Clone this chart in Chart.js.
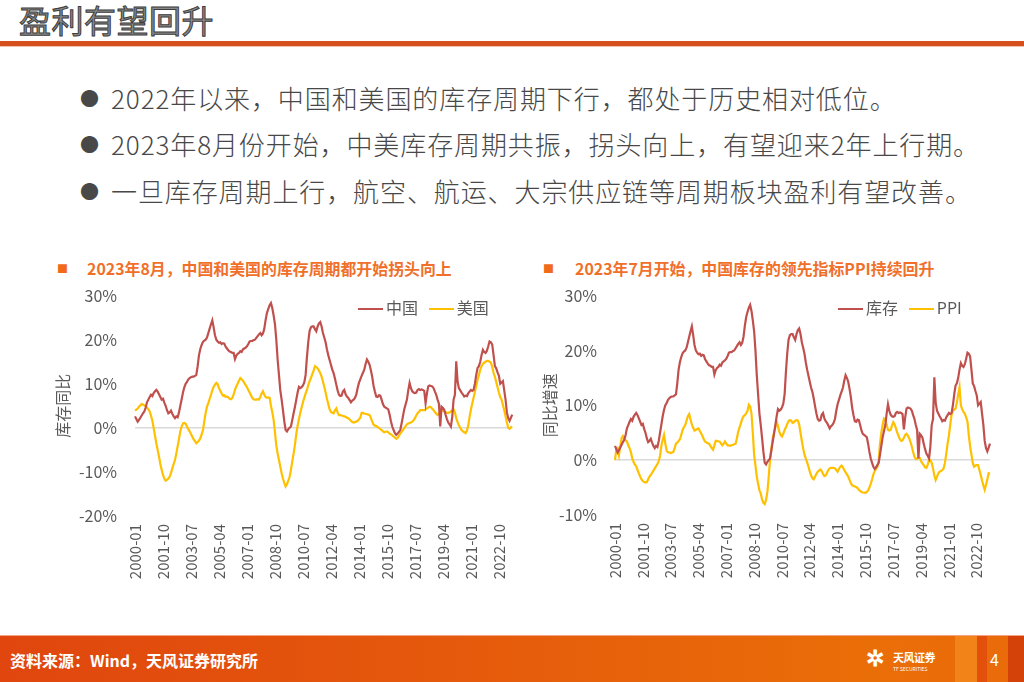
<!DOCTYPE html>
<html>
<head>
<meta charset="utf-8">
<script src="https://cdn.jsdelivr.net/npm/chart.js@4.4.0/dist/chart.umd.min.js"></script>
<style>
  body { margin:0; width:1024px; height:682px; overflow:hidden; background:#fff;
         font-family:"Noto Sans CJK SC", "Noto Sans", sans-serif; position:relative; }
  .abs { position:absolute; }
  #title { left:19px; top:-4px; font-size:32px; color:#8a8a8a; -webkit-text-stroke:1px #3c3c3c; letter-spacing:0.5px; }
  #bar { left:0; top:41px; width:1024px; height:5px; background:#D6501E; }
  #bar2 { left:0; top:46px; width:1024px; height:1px; background:#f2c4b0; }
  .bl { left:80px; font-size:26px; font-weight:300; color:#484848; white-space:nowrap; letter-spacing:0.9px; }
  .bl b { font-weight:normal; font-size:19px; margin-right:12px; position:relative; top:-3px; letter-spacing:0; }
  .ct { font-size:15.9px; font-weight:bold; color:#F0702A; white-space:nowrap; }
  .sq { font-size:11px; color:#F06A1A; }
  .lg { font-size:16px; color:#595959; white-space:nowrap; }
  .lg i { display:inline-block; width:25px; height:2px; vertical-align:middle; margin-right:3px; position:relative; top:-1px; }
  #foot { left:0; top:636px; width:1024px; height:46px;
          background:linear-gradient(90deg,#E0460E 0%,#E55A0C 45%,#EA6E08 85%,#E96A0A 100%); }
  #footline { left:0; top:635px; width:1024px; height:2px; background:#f4a384; }
  #src { left:10px; top:648px; font-size:16px; font-weight:bold; color:#fff; }
</style>
</head>
<body>
<div id="title" class="abs">盈利有望回升</div>
<div id="bar" class="abs"></div>
<div id="bar2" class="abs"></div>

<div class="abs bl" style="top:79px"><b>●</b>2022年以来，中国和美国的库存周期下行，都处于历史相对低位。</div>
<div class="abs bl" style="top:125px"><b>●</b>2023年8月份开始，中美库存周期共振，拐头向上，有望迎来2年上行期。</div>
<div class="abs bl" style="top:172px"><b>●</b>一旦库存周期上行，航空、航运、大宗供应链等周期板块盈利有望改善。</div>

<div class="abs sq" style="left:57px;top:260px">■</div>
<div class="abs ct" style="left:87px;top:257px">2023年8月，中国和美国的库存周期都开始拐头向上</div>
<div class="abs sq" style="left:543px;top:260px">■</div>
<div class="abs ct" style="left:575px;top:257px">2023年7月开始，中国库存的领先指标PPI持续回升</div>

<canvas id="c1" class="abs" style="left:53px;top:268px"></canvas>
<canvas id="c2" class="abs" style="left:540px;top:268px"></canvas>

<div class="abs lg" style="left:358px;top:295px"><i style="background:#C0504D"></i>中国&nbsp;&nbsp;&nbsp;<i style="background:#FFC000"></i>美国</div>
<div class="abs lg" style="left:838px;top:295px"><i style="background:#C0504D"></i>库存&nbsp;&nbsp;&nbsp;<i style="background:#FFC000"></i>PPI</div>

<div id="footline" class="abs"></div>
<div id="foot" class="abs"></div>
<div class="abs" style="left:955px;top:636px;width:22px;height:46px;background:#F28A1E;opacity:0.8"></div>
<div class="abs" style="left:977px;top:636px;width:10px;height:46px;background:#E2500C"></div>
<div class="abs" style="left:1008px;top:636px;width:16px;height:46px;background:#D4420A"></div>
<div id="src" class="abs">资料来源：Wind，天风证券研究所</div>
<div class="abs" style="left:866px;top:645px;color:#fff;font-size:22px;line-height:22px;font-weight:bold">✲</div>
<div class="abs" style="left:893px;top:649px;color:#fff;font-size:11px;font-weight:bold;letter-spacing:-0.5px">天风证券</div>
<div class="abs" style="left:893px;top:665px;color:#fff;font-size:5px">TF SECURITIES</div>
<div class="abs" style="left:990px;top:647px;color:#fff;font-size:16px">4</div>

<script>
// x-axis tick labels shown (every 21 months)
const tickLabels = ['2000-01','2001-10','2003-07','2005-04','2007-01','2008-10','2010-07',
  '2012-04','2014-01','2015-10','2017-07','2019-04','2021-01','2022-10'];

// China industrial inventory yoy (%), 2000-01 .. 2023-08
const chinaInv = [
  2.6, 2.0, 1.4, 1.8, 2.3, 2.8, 3.3, 3.7, 4.6, 5.8, 6.4, 7.0,
  7.5, 7.2, 7.9, 8.3, 8.6, 8.2, 7.6, 7.0, 6.4, 6.6, 5.7, 5.0,
  4.0, 3.3, 3.5, 3.9, 3.2, 2.6, 2.2, 2.6, 2.4, 3.5, 5.0, 6.5,
  8.0, 9.2, 10.0, 10.4, 11.0, 11.3, 11.5, 11.6, 11.6, 11.8, 12.0, 14.0,
  16.5, 17.9, 18.8, 19.5, 19.8, 20.0, 20.5, 21.5, 22.5, 23.5, 24.4, 22.8,
  21.0, 20.0, 19.6, 19.3, 19.4, 19.0, 19.2, 19.1, 18.4, 18.0, 17.6, 17.3,
  17.2, 17.0, 17.0, 15.6, 16.4, 16.8, 17.0, 17.4, 17.2, 17.8, 18.0, 18.2,
  18.5, 19.0, 19.6, 19.7, 19.7, 19.9, 20.0, 20.4, 20.8, 21.2, 21.5, 21.0,
  21.4, 22.5, 24.5, 26.1, 27.0, 27.8, 28.3, 27.2, 25.5, 23.5, 20.0, 15.5,
  12.0, 8.5, 6.4, 4.0, 1.5, -0.5, -0.8, -0.3, 0.0, 0.3, 1.8, 3.3,
  4.8, 6.4, 8.0, 9.3, 9.0, 9.2, 9.6, 10.3, 12.0, 16.1, 19.5, 22.0,
  22.8, 23.0, 23.0, 22.4, 21.9, 23.0, 23.7, 24.0, 23.0, 21.5, 20.5, 19.4,
  17.8, 16.5, 15.4, 14.3, 13.2, 12.4, 11.2, 9.8, 8.5, 7.5, 7.2, 7.3,
  8.3, 8.6, 7.6, 7.1, 6.8, 6.3, 5.8, 6.2, 6.4, 6.8, 7.5, 9.0,
  10.2, 11.0, 11.8, 12.5, 13.2, 14.5, 15.5, 15.0, 14.3, 13.0, 11.5, 9.5,
  8.2, 7.1, 7.0, 7.4, 7.3, 6.4, 5.4, 4.8, 4.6, 4.4, 4.2, 3.0,
  1.5, 0.3, -0.5, -1.2, -1.6, -1.3, -0.9, -0.5, 1.0, 2.6, 4.2, 5.3,
  6.4, 8.5, 10.2, 9.0, 8.3, 8.0, 7.9, 8.0, 8.6, 8.8, 8.6, 8.7,
  8.6, 8.4, 5.6, 7.8, 9.4, 9.6, 9.5, 9.4, 9.0, 8.2, 7.5, 6.4,
  5.5, 0.3, 4.8, 4.5, 4.1, 3.0, 2.0, 1.2, 0.8, 0.3, 2.5, 6.4,
  7.5, 15.1, 10.5, 9.0, 8.5, 8.0, 7.6, 7.1, 7.3, 7.2, 7.8, 8.2,
  8.6, 8.4, 8.6, 10.0, 12.0, 13.6, 14.0, 15.0, 16.5, 17.7, 17.2, 17.0,
  17.5, 18.5, 19.6, 19.4, 18.9, 16.5, 14.0, 13.5, 12.6, 11.8, 10.0, 10.3,
  10.6, 8.5, 6.4, 3.5, 2.2, 1.6, 2.3, 3.0
];

// US inventory yoy (%)
const usInv = [
  3.9, 4.1, 4.4, 4.8, 5.1, 5.4, 5.3, 5.1, 4.9, 4.6, 4.2, 3.7,
  2.8, 1.6, 0.0, -1.8, -3.5, -5.0, -6.5, -8.2, -9.5, -10.7, -11.5, -12.0,
  -11.8, -11.5, -11.1, -10.2, -9.2, -8.2, -7.3, -5.8, -4.2, -2.5, -0.8, 0.3,
  1.0, 1.1, 0.9, 0.3, -0.3, -0.8, -1.4, -2.0, -2.6, -3.0, -3.5, -3.2,
  -2.9, -2.4, -1.5, -0.5, 1.5, 3.4, 4.8, 5.6, 6.6, 7.5, 8.5, 9.3,
  9.8, 10.2, 9.9, 9.0, 8.4, 7.8, 7.3, 7.4, 7.0, 7.1, 6.9, 6.6,
  6.5, 6.8, 7.6, 8.6, 9.4, 10.0, 10.7, 11.3, 11.0, 10.7, 10.2, 9.7,
  9.2, 8.6, 8.0, 7.4, 6.8, 6.5, 6.4, 6.4, 6.5, 6.4, 7.0, 7.8,
  8.3, 7.5, 7.0, 6.8, 6.9, 6.8, 5.0, 3.5, 1.8, -1.0, -4.0, -5.8,
  -7.3, -8.8, -10.3, -11.5, -12.5, -13.3, -12.8, -12.0, -11.1, -9.5, -7.6, -5.8,
  -3.8, -1.4, 0.5, 2.0, 3.4, 4.6, 5.8, 6.8, 7.8, 8.6, 9.7, 10.6,
  11.3, 12.2, 13.0, 14.0, 13.8, 13.5, 13.0, 12.4, 11.6, 10.5, 9.3, 8.0,
  6.6, 5.4, 4.2, 3.6, 3.4, 3.3, 4.0, 4.4, 3.5, 2.9, 2.9, 2.8,
  2.7, 2.6, 2.5, 2.3, 2.2, 1.9, 1.6, 1.3, 1.2, 1.3, 1.4, 1.6,
  1.9, 2.3, 3.4, 3.4, 3.2, 3.2, 3.1, 3.0, 2.9, 2.2, 1.4, 0.7,
  0.5, 0.4, 0.2, 0.0, -0.3, -0.5, -0.8, -1.0, -0.9, -0.8, -1.0, -1.3,
  -1.5, -1.7, -2.0, -2.2, -2.5, -2.3, -1.8, -1.3, -0.9, -0.5, 0.0, 0.4,
  0.8, 1.0, 1.1, 1.2, 1.4, 1.7, 2.2, 2.8, 3.3, 3.6, 4.0, 4.0,
  4.0, 4.0, 4.2, 4.4, 4.6, 4.8, 4.7, 4.3, 4.0, 3.6, 3.2, 2.9,
  3.2, 3.8, 4.1, 3.9, 3.7, 3.5, 3.4, 3.4, 3.5, 3.7, 4.0, 4.2,
  3.5, 2.2, 1.3, 0.6, 0.0, -0.5, -0.8, -1.0, -1.2, -0.6, 0.5, 2.5,
  4.1, 5.5, 6.8, 8.2, 9.5, 10.9, 12.0, 13.2, 14.0, 14.5, 14.8, 15.0,
  15.2, 15.2, 15.0, 14.8, 13.8, 12.5, 11.6, 10.4, 9.2, 8.0, 7.0, 6.4,
  5.2, 4.0, 2.6, 1.2, 0.0, -0.2, 0.1, 0.3
];

// China PPI yoy (%)
const ppi = [
  0.0, 2.0, 2.2, 0.9, 2.6, 4.0, 4.4, 3.9, 3.6, 3.4, 2.7, 2.2,
  1.5, 0.3, -0.3, -0.8, -1.1, -1.8, -2.4, -3.0, -3.5, -3.8, -4.0, -4.1,
  -4.0, -3.5, -3.0, -2.7, -2.3, -1.9, -1.5, -1.1, -0.7, -0.2, 0.8, 2.6,
  3.7, 4.6, 3.0, 1.7, 1.4, 1.4, 1.3, 1.4, 1.5, 2.2, 3.0, 3.2,
  3.5, 3.8, 4.6, 5.5, 6.0, 6.4, 7.2, 8.0, 8.4, 7.4, 6.5, 5.9,
  5.4, 5.5, 5.7, 5.8, 5.3, 4.9, 4.4, 3.8, 3.4, 3.2, 3.1, 3.0,
  2.6, 2.2, 1.9, 2.7, 3.5, 3.5, 3.4, 3.4, 3.0, 2.7, 3.0, 3.4,
  3.0, 2.7, 2.7, 2.6, 2.7, 2.8, 2.9, 3.0, 4.0, 5.2, 6.0, 6.7,
  7.5, 8.0, 8.2, 8.5, 9.0, 10.1, 9.8, 8.5, 5.0, 1.0, -1.0, -3.0,
  -4.3, -5.5, -6.1, -7.2, -7.8, -8.0, -7.2, -5.8, -3.0, 0.0, 2.0, 4.0,
  5.0, 6.0, 7.0, 6.2, 5.2, 4.6, 4.3, 4.8, 5.5, 6.0, 6.6, 7.1,
  7.3, 7.2, 6.8, 6.9, 7.2, 7.3, 7.2, 6.5, 5.0, 3.5, 2.1, 1.0,
  0.3, -0.4, -1.2, -2.1, -2.8, -3.3, -3.5, -3.0, -2.5, -2.1, -1.9, -1.7,
  -2.0, -2.5, -2.9, -2.8, -2.3, -1.8, -1.5, -1.4, -1.4, -1.4, -1.5, -1.8,
  -2.1, -1.6, -1.2, -1.0, -1.3, -1.8, -2.2, -2.6, -3.0, -3.6, -4.2, -4.6,
  -4.7, -4.8, -4.9, -5.1, -5.4, -5.6, -5.8, -5.9, -5.9, -6.0, -5.8, -5.5,
  -5.0, -4.3, -3.5, -2.6, -2.0, -1.6, -1.2, 0.0, 3.0, 5.0, 6.5, 7.6,
  7.4, 6.5, 5.5, 5.4, 5.5, 6.3, 6.9, 6.5, 5.8, 5.0, 4.4, 3.8,
  3.5, 3.6, 4.1, 4.6, 4.8, 4.5, 4.0, 3.3, 2.5, 1.5, 0.6, 0.2,
  0.3, 0.5, 0.4, -0.2, -0.6, -0.9, -1.3, -1.4, -0.8, 0.0, 0.0, -0.5,
  -1.5, -2.8, -3.6, -3.0, -2.4, -2.1, -2.0, -1.8, -1.5, -0.5, 1.2, 3.0,
  4.5, 6.5, 8.3, 9.0, 9.2, 9.4, 10.5, 12.0, 13.3, 10.0, 9.3, 8.8,
  8.5, 7.8, 7.0, 4.5, 2.5, 1.0, -0.5, -1.2, -1.0, -0.9, -0.9, -1.8,
  -2.7, -3.7, -4.6, -5.4, -4.5, -3.5, -2.4, -2.5
];

const months = [];
for (let y = 2000; months.length < chinaInv.length; y++) {
  for (let m = 1; m <= 12 && months.length < chinaInv.length; m++) {
    months.push(y + '-' + (m < 10 ? '0' + m : m));
  }
}

const RED = '#C0504D', YELLOW = '#FFC000', GREY = '#595959';
Chart.defaults.font.family = "'Noto Sans CJK SC', 'Noto Sans', sans-serif";
Chart.defaults.color = GREY;

function makeChart(id, w, h, pad, yWidth, xHeight, ymin, ymax, yTitle, s1, s2) {
  const cv = document.getElementById(id);
  cv.style.width = w + 'px';
  cv.style.height = h + 'px';
  return new Chart(cv, {
    type: 'line',
    data: {
      labels: months,
      datasets: [
        { data: s1, borderColor: RED, borderWidth: 2.2, pointRadius: 0, tension: 0 },
        { data: s2, borderColor: YELLOW, borderWidth: 2.2, pointRadius: 0, tension: 0 }
      ]
    },
    options: {
      responsive: false,
      animation: false,
      devicePixelRatio: 1,
      layout: { padding: pad },
      plugins: { legend: { display: false }, tooltip: { enabled: false } },
      scales: {
        x: {
          type: 'category',
          offset: false,
          grid: { display: false, drawTicks: false },
          border: { display: false },
          afterFit: s => { s.height = xHeight; },
          ticks: {
            autoSkip: false, maxRotation: 90, minRotation: 90, padding: 8,
            font: { size: 15 }, color: GREY,
            callback: function (v) {
              const l = this.getLabelForValue(v);
              return tickLabels.includes(l) ? l : null;
            }
          }
        },
        y: {
          min: ymin, max: ymax,
          afterFit: s => { s.width = yWidth; },
          border: { display: false },
          grid: {
            drawTicks: false, lineWidth: 1.5,
            color: c => c.tick.value === 0 ? '#D9D9D9' : 'rgba(0,0,0,0)'
          },
          title: { display: true, text: yTitle, font: { size: 16 }, color: GREY, padding: { top: 0, bottom: 4 } },
          ticks: { stepSize: 10, padding: 18, font: { size: 16 }, color: GREY, callback: v => v + '%' }
        }
      }
    }
  });
}

makeChart('c1', 472, 332, { top: 10, right: 3, left: 0, bottom: 0 }, 82, 84, -20, 30, '库存同比', chinaInv, usInv);
makeChart('c2', 470, 332, { top: 10, right: 20, left: 0, bottom: 0 }, 75, 85, -10, 30, '同比增速', chinaInv, ppi);
</script>
</body>
</html>
